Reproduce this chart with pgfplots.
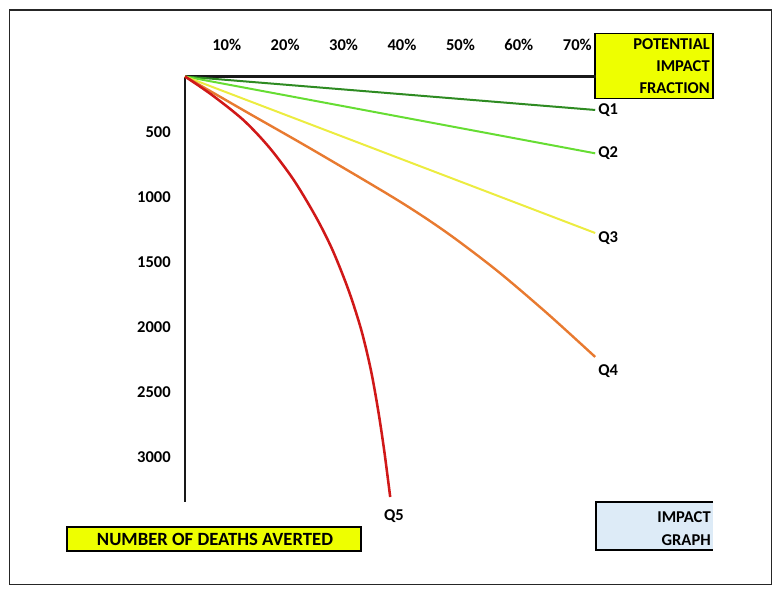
\documentclass[border=0pt]{standalone}
\usepackage{pgfplots}
\pgfplotsset{compat=1.18}
\usepackage{fontspec}
\setmainfont{Carlito}
\definecolor{qone}{HTML}{2E8B22}
\definecolor{qtwo}{HTML}{66DD33}
\definecolor{qthree}{HTML}{ECEC40}
\definecolor{qfour}{HTML}{E87A30}
\definecolor{qfive}{HTML}{D01818}
\definecolor{boxyellow}{RGB}{238,255,0}
\definecolor{boxblue}{HTML}{DDEBF7}
\newcommand\lab{\fontsize{12.4}{14}\selectfont\bfseries}
\begin{document}
\begin{tikzpicture}
\begin{scope}[x=0.75pt,y=-0.75pt]
\path (0,0) rectangle (781,596);
\draw[line width=1.2pt, black!85] (9.5,10) rectangle (771.5,584.5);
\draw[fill=boxyellow, line width=0.9pt] (595,33.5) rectangle (713,98.5);
\node[anchor=east, inner sep=0pt, font=\lab] at (710,44) {POTENTIAL};
\node[anchor=east, inner sep=0pt, font=\lab] at (710,66) {IMPACT};
\node[anchor=east, inner sep=0pt, font=\lab] at (710,88) {FRACTION};
\draw[fill=boxyellow, line width=0.9pt] (67,527) rectangle (361,551);
\node[inner sep=0pt, font=\fontsize{14}{16}\selectfont\bfseries] at (215,539) {NUMBER OF DEATHS AVERTED};
\fill[boxblue] (596,502) rectangle (713,550);
\draw[line width=0.9pt] (713,502) -- (596,502) -- (596,550) -- (713,550);
\node[anchor=east, inner sep=0pt, font=\lab] at (711,517) {IMPACT};
\node[anchor=east, inner sep=0pt, font=\lab] at (711,540) {GRAPH};
\end{scope}
\begin{axis}[
  at={(138.75pt,-57.375pt)}, anchor=north west,
  scale only axis, width=308.25pt, height=319.1pt,
  xmin=2.86, xmax=73.2, ymin=76, ymax=3344,
  y dir=reverse,
  axis x line=top, axis y line=left,
  axis line style={-, line width=1.6pt, black!90},
  xtick={10,20,30,40,50,60,70},
  xticklabels={10\%,20\%,30\%,40\%,50\%,60\%,70\%},
  ytick={500,1000,1500,2000,2500,3000},
  major tick length=0pt,
  /pgf/number format/assume math mode=true,
  /pgf/number format/1000 sep={},
  xticklabel style={anchor=center, inner sep=0pt, yshift=23.6pt, font=\lab},
  yticklabel style={anchor=east, inner sep=0pt, xshift=-10.5pt, font=\lab},
  clip=false,
]
\addplot[qone, line width=1.5pt] coordinates {(2.86,76) (73.06,333)};
\addplot[qtwo, line width=1.5pt] coordinates {(2.86,76) (73.06,666)};
\addplot[qthree, line width=1.5pt] coordinates {(2.86,76) (73.06,1278)};
\addplot[qfour, line width=1.8pt, smooth] coordinates {(2.86,76) (13.48,351) (24.78,641) (39.33,1028) (47.72,1277) (56.28,1568) (64.84,1895) (73.06,2230)};
\addplot[qfive, line width=1.9pt, smooth] coordinates {(2.86,76) (7.48,218) (12.84,410) (17.23,618) (21.47,871) (25.27,1155) (28.10,1408) (30.84,1716) (33.03,2023) (34.67,2330) (35.91,2638) (36.94,2945) (37.98,3306)};
\end{axis}
\begin{scope}[x=0.75pt,y=-0.75pt]
\node[anchor=west, inner sep=0pt, font=\lab] at (598,110) {Q1};
\node[anchor=west, inner sep=0pt, font=\lab] at (598,153) {Q2};
\node[anchor=west, inner sep=0pt, font=\lab] at (598,238) {Q3};
\node[anchor=west, inner sep=0pt, font=\lab] at (598,371) {Q4};
\node[inner sep=0pt, font=\lab] at (394,516) {Q5};
\end{scope}
\end{tikzpicture}
\end{document}
